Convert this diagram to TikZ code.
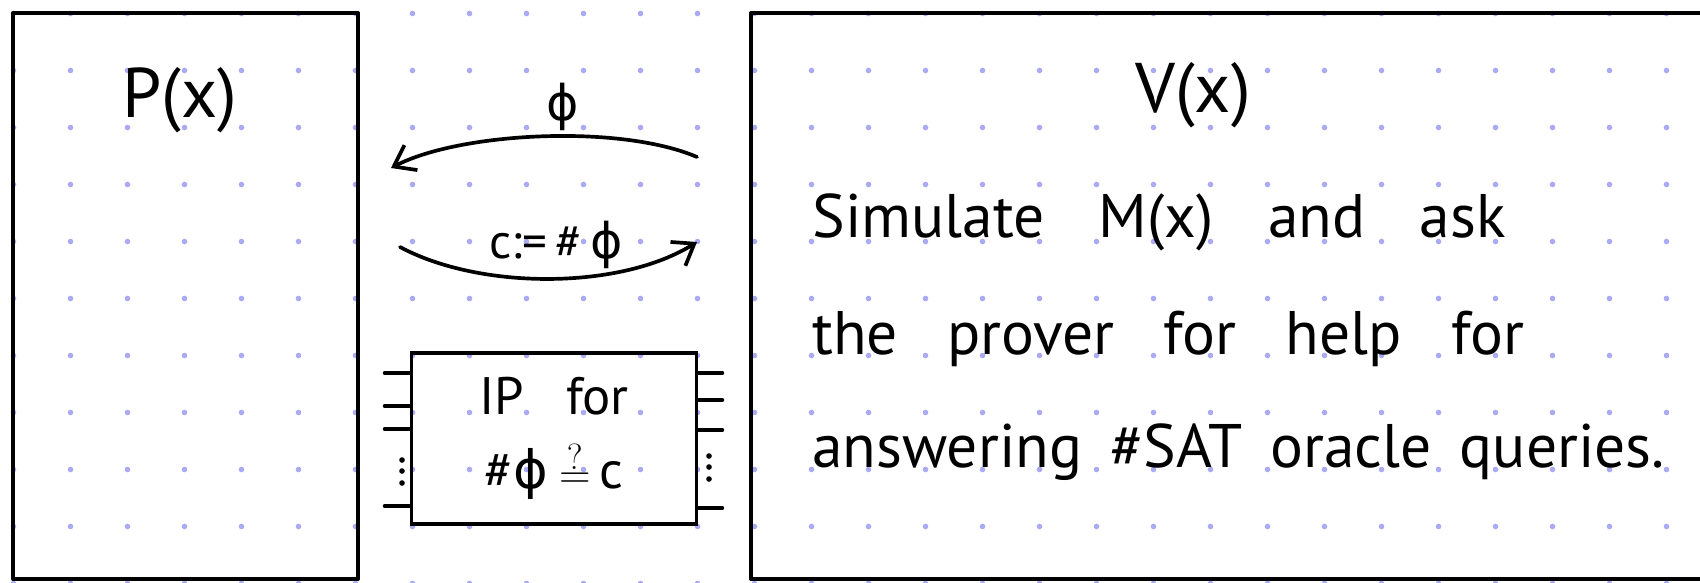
\documentclass[tikz,border=0pt]{standalone}
\usepackage{fontspec}
\setmainfont{PT Sans}[WordSpace=1.3]
\newfontfamily\phifont{DejaVu Sans}
\usetikzlibrary{arrows.meta}

\definecolor{gridblue}{RGB}{170,170,245}

\newcommand{\fii}{{\phifont ϕ}}

\tikzset{
  frame/.style={line width=2.3pt, line join=round},
  msg/.style={line width=2.1pt, line cap=round,
    -{Straight Barb[length=11pt,width=16pt,line width=2.1pt]}},
  pin/.style={line width=2pt, line cap=round},
  title/.style={font=\fontsize{40pt}{48pt}\selectfont, inner sep=0pt},
  hand/.style={font=\fontsize{35pt}{44pt}\selectfont, inner sep=0pt, anchor=base west},
  msgtext/.style={font=\fontsize{28pt}{34pt}\selectfont, inner sep=0pt},
}

\begin{document}
\begin{tikzpicture}[x=0.02cm, y=-0.02cm]
  \useasboundingbox (0,0) rectangle (1700,582);
  % dotted paper
  \foreach \i in {0,...,29}
    \foreach \j in {0,...,10}
      \fill[gridblue] (13.5+57*\i, 13.5+57*\j) circle[radius=1.6pt];

  % prover and verifier
  \draw[frame] (13,13) rectangle (358,579);
  \draw[frame] (751,13) rectangle (1740,579);
  \node[title] (prover) at (180,100) {P(x)};
  \node[title] (verifier) at (1193,95) {V(x)};
  \node[hand] (sim) at (812,237) {\spaceskip=31pt Simulate M(x) and ask};
  \node[hand] (help) at (812,354) {\spaceskip=28pt the prover for help for};
  \node[hand] (oracle) at (812,467) {\spaceskip=16pt answering \#SAT oracle queries.};

  % messages
  \coordinate (phifrom) at (697,157);
  \coordinate (phito) at (391,168);
  \draw[msg] (phifrom) .. controls (620,124) and (460,132) .. (phito);
  \node[msgtext] (phi) at (563,107) {\fii};
  \coordinate (cfrom) at (400,247);
  \coordinate (cto) at (697,242);
  \draw[msg] (cfrom) .. controls (480,290) and (620,290) .. (cto);
  \node[msgtext] (count) at (556,245) {c:=\,\#\,\fii};

  % the sub-protocol
  \node[draw, line width=2pt, minimum width=5.71cm, minimum height=3.42cm,
    align=center, font=\fontsize{30pt}{38pt}\selectfont] (ipbox) at (554,438.5)
    {IP\hspace{0.8em}for\\[4pt] \#\fii\hspace{6pt}$\stackrel{?}{=}$\,c};
  \foreach \y in {373,406,429,506}
    \draw[pin] (ipbox.west |- 0,\y) -- ++(-25,0);
  \foreach \y in {373,400,430,508}
    \draw[pin] (ipbox.east |- 0,\y) -- ++(24,0);
  \foreach \y in {460,471,483} {
    \fill (402,\y) circle[radius=1.6pt];
    \fill (709,\y-4) circle[radius=1.6pt];
  }
\end{tikzpicture}
\end{document}
